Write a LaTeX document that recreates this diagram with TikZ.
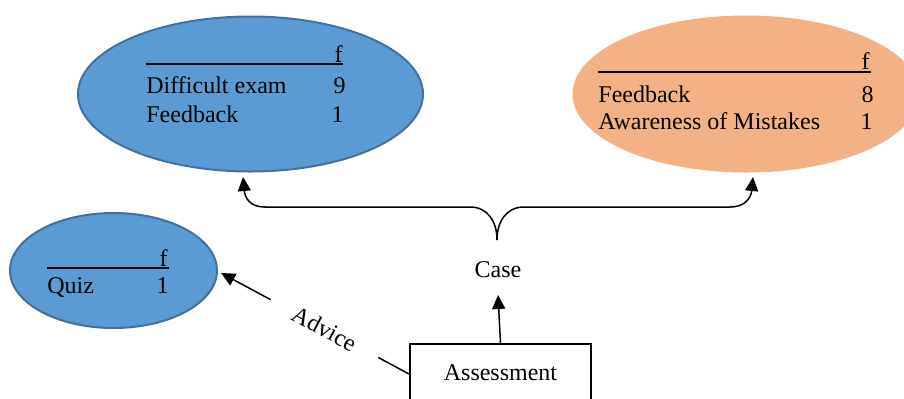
\documentclass[tikz,border=0pt]{standalone}
\usepackage{fontspec}
\setmainfont{Liberation Serif}
\usetikzlibrary{shapes.geometric,arrows.meta}

\definecolor{bluefill}{HTML}{5B9BD5}
\definecolor{blueline}{HTML}{41719C}
\definecolor{orangefill}{HTML}{F4B183}

\tikzset{
  txt/.style={inner sep=0pt, font=\fontsize{12}{14}\selectfont},
  cell/.style={txt, anchor=base west},
  num/.style={txt, anchor=base east},
  bluebubble/.style={ellipse, draw=blueline, line width=1pt, fill=bluefill},
  orangebubble/.style={ellipse, draw=orangefill, line width=0.5pt, fill=orangefill},
  rulebar/.style={line width=1pt},
  plainlink/.style={line width=0.75pt},
  link/.style={plainlink, -{Triangle[length=7pt,width=6.5pt]}},
  stepbox/.style={draw, line width=1pt, rectangle, minimum width=90.5pt,
    minimum height=30pt, anchor=north, font=\fontsize{12}{14}\selectfont}
}

\begin{document}
\begin{tikzpicture}[x=0.5pt, y=-0.5pt]
\clip (0,0) rectangle (904,398);

% bubbles
\node[bluebubble, minimum width=172.5pt, minimum height=77.5pt] (diff) at (250.5,94) {};
\node[orangebubble, minimum width=173pt, minimum height=78pt] (aware) at (746,94) {};
\node[bluebubble, minimum width=103.5pt, minimum height=57.5pt] (quiz) at (113.5,270.5) {};

% table: difficult exam
\node[num] (d0) at (343,62) {f};
\draw[rulebar] (146,64) -- (343,64);
\node[cell] (d1) at (146,93) {Difficult exam};
\node[num]  (d1n) at (346,93) {9};
\node[cell] (d2) at (146,122) {Feedback};
\node[num]  (d2n) at (344,122) {1};

% table: feedback / awareness
\node[num] (a0) at (870,69) {f};
\draw[rulebar] (598,72) -- (871,72);
\node[cell] (a1) at (598,102) {Feedback};
\node[num]  (a1n) at (874,102) {8};
\node[cell] (a2) at (598,129) {Awareness of Mistakes};
\node[num]  (a2n) at (873,129) {1};

% table: quiz
\node[num] (q0) at (168,266) {f};
\draw[rulebar] (47,268) -- (169,268);
\node[cell] (q1) at (47,293) {Quiz};
\node[num]  (q1n) at (169,293) {1};

% central box and label
\node[stepbox] (asm) at (500.5,343) {\raisebox{1.5pt}{Assessment}};
\node[txt] (case) at (498,270) {Case};

% connector end points
\coordinate (braceTip) at (497,240);
\coordinate (diffTip) at (243,177);
\coordinate (awareTip) at (753,177);
\coordinate (caseTip) at (498,295);
\coordinate (quizTip) at (221,273);

% brace towards both upper bubbles
\draw[link] (braceTip) .. controls (497,222) and (488,207) .. (470,207)
  -- (265,207) .. controls (250,207) and (245,198) .. (diffTip);
\draw[link] (braceTip) .. controls (497,222) and (506,207) .. (524,207)
  -- (730,207) .. controls (745,207) and (751,198) .. (awareTip);

% box to case label
\draw[link] (asm.north) -- (caseTip);

% advice connector, interrupted by its label
\path (asm.west) -- node[pos=0.45, sloped, txt, inner xsep=13pt, inner ysep=4pt]
  (adv) {Advice} (quizTip);
\draw[plainlink] (asm.west) -- (adv);
\draw[link] (adv) -- (quizTip);
\end{tikzpicture}
\end{document}
